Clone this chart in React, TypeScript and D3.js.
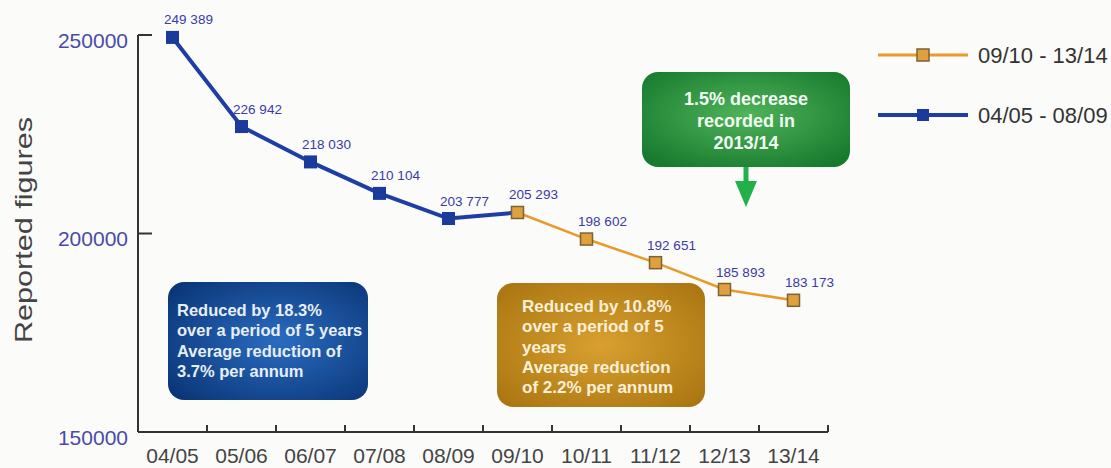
import React from "react";
import * as d3 from "d3";

const categories = ["04/05", "05/06", "06/07", "07/08", "08/09", "09/10", "10/11", "11/12", "12/13", "13/14"];
const values = [249389, 226942, 218030, 210104, 203777, 205293, 198602, 192651, 185893, 183173];
const valueLabels = ["249 389", "226 942", "218 030", "210 104", "203 777", "205 293", "198 602", "192 651", "185 893", "183 173"];
const blueCats = ["04/05", "05/06", "06/07", "07/08", "08/09", "09/10"];
const orangeCats = ["09/10", "10/11", "11/12", "12/13", "13/14"];
const yTicks = [150000, 200000, 250000];
const legendItems = ["09/10 - 13/14", "04/05 - 08/09"];
const greenText = ["1.5% decrease", "recorded in", "2013/14"];
const blueText = ["Reduced by 18.3%", "over a period of 5 years", "Average reduction of", "3.7% per annum"];
const orangeText = ["Reduced by 10.8%", "over a period of 5", "years", "Average reduction", "of 2.2% per annum"];

export default function App() {
  const x = d3.scaleBand<string>().domain(categories).range([138, 828]).padding(0);
  const y = d3.scaleLinear().domain([150000, 250000]).range([432, 35]);
  const cx = (c: string) => (x(c) as number) + x.bandwidth() / 2;
  const valOf = (c: string) => values[categories.indexOf(c)];
  const line = d3.line<string>().x(cx).y((c) => y(valOf(c)));
  const blueColor = "#1e3ea6";
  const orangeColor = "#e89a2a";
  const font = "Liberation Sans, Arial, sans-serif";

  return (
    <svg width={1111} height={468} style={{ position: "absolute", left: 0, top: 0, background: "#fbfbfa" }} fontFamily={font}>
      <defs>
        <radialGradient id="gGreen" cx="50%" cy="45%" r="65%">
          <stop offset="0%" stopColor="#4fb45a" />
          <stop offset="100%" stopColor="#177a2e" />
        </radialGradient>
        <radialGradient id="gBlue" cx="55%" cy="50%" r="70%">
          <stop offset="0%" stopColor="#2a6cc0" />
          <stop offset="100%" stopColor="#0a3576" />
        </radialGradient>
        <radialGradient id="gOrange" cx="50%" cy="50%" r="70%">
          <stop offset="0%" stopColor="#d9a030" />
          <stop offset="100%" stopColor="#a87410" />
        </radialGradient>
      </defs>

      {/* axes */}
      <line x1={138} x2={138} y1={35} y2={432} stroke="#333" strokeWidth={2} />
      <line x1={138} x2={828} y1={432} y2={432} stroke="#333" strokeWidth={2} />
      {yTicks.map((t) => (
        <g key={t}>
          <line x1={138} x2={152} y1={y(t)} y2={y(t)} stroke="#333" strokeWidth={2} />
          <text x={128} y={y(t) + 12.5} textAnchor="end" fontSize={21} fill="#4a4aa8">{t}</text>
        </g>
      ))}
      {categories.map((c) => (
        <g key={c}>
          <line x1={(x(c) as number) + x.bandwidth()} x2={(x(c) as number) + x.bandwidth()} y1={432} y2={425} stroke="#333" strokeWidth={2} />
          <text x={cx(c)} y={463} textAnchor="middle" fontSize={21} fill="#444">{c}</text>
        </g>
      ))}
      <text transform="translate(32,230) rotate(-90)" textAnchor="middle" fontSize={24} fill="#444"
        textLength={226} lengthAdjust="spacingAndGlyphs">Reported figures</text>

      {/* boxes */}
      <rect x={168} y={282} width={200} height={118} rx={16} fill="url(#gBlue)" />
      {blueText.map((t, i) => (
        <text key={t} x={177} y={316 + i * 20.3} fontSize={16.5} fontWeight="bold" fill="#e8eef8">{t}</text>
      ))}
      <rect x={497} y={283} width={208} height={124} rx={16} fill="url(#gOrange)" />
      {orangeText.map((t, i) => (
        <text key={t} x={522} y={312 + i * 20.3} fontSize={17} fontWeight="bold" fill="#fbf0d8">{t}</text>
      ))}
      <rect x={642} y={72} width={208} height={95} rx={16} fill="url(#gGreen)" />
      {greenText.map((t, i) => (
        <text key={t} x={746} y={104.5 + i * 22} textAnchor="middle" fontSize={18} fontWeight="bold" fill="#f2fbf2">{t}</text>
      ))}
      <line x1={746} x2={746} y1={167} y2={184} stroke="#22b04a" strokeWidth={5} />
      <path d="M735,181 L757,181 L746,207 Z" fill="#22b04a" />

      {/* lines */}
      <path d={line(blueCats) || ""} fill="none" stroke={blueColor} strokeWidth={4} />
      <path d={line(orangeCats) || ""} fill="none" stroke={orangeColor} strokeWidth={2.5} />
      {categories.map((c, i) => {
        const isBlue = i < 5;
        const s = isBlue ? 13 : 12;
        return (
          <rect key={c} x={cx(c) - s / 2} y={y(values[i]) - s / 2} width={s} height={s}
            fill={isBlue ? "#1a3a9c" : "#e0a040"} stroke={isBlue ? "#1a3a9c" : "#7a6430"} strokeWidth={isBlue ? 0 : 1.5} />
        );
      })}
      {categories.map((c, i) => (
        <text key={c} x={cx(c) + 16} y={y(values[i]) - 13} textAnchor="middle" fontSize={13.5} fill="#3a3aa6">{valueLabels[i]}</text>
      ))}

      {/* legend */}
      {legendItems.map((t, i) => {
        const ly = 55 + i * 60;
        const isOrange = i === 0;
        return (
          <g key={t}>
            <line x1={878} x2={968} y1={ly} y2={ly} stroke={isOrange ? orangeColor : blueColor} strokeWidth={isOrange ? 3 : 4} />
            <rect x={917} y={ly - 6} width={12} height={12} fill={isOrange ? "#e0a040" : "#1a3a9c"} stroke={isOrange ? "#7a6430" : "#1a3a9c"} strokeWidth={isOrange ? 1.5 : 0} />
            <text x={978} y={ly + 8} fontSize={22} fill="#333">{t}</text>
          </g>
        );
      })}
    </svg>
  );
}
